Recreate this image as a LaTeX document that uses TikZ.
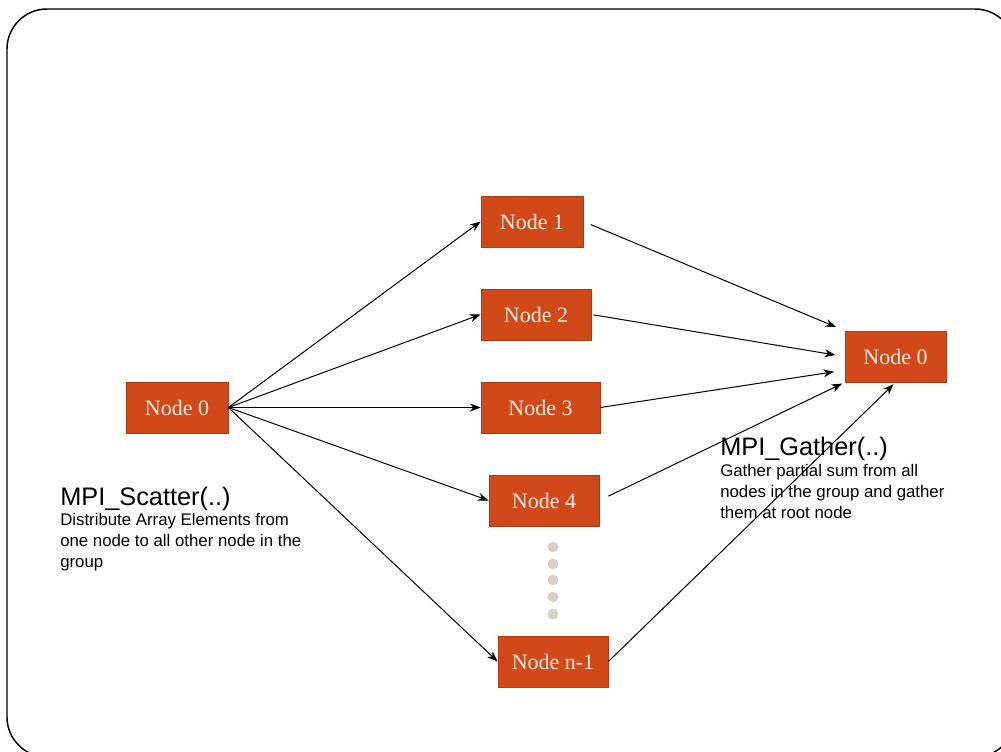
\documentclass[tikz,border=0pt]{standalone}
\usepackage{fontspec}
\setmainfont{Liberation Serif}
\newfontfamily\labelsans{Liberation Sans}
\usepackage{xcolor}
\usetikzlibrary{arrows.meta}

\definecolor{nodefill}{RGB}{209,73,24}
\definecolor{nodeedge}{RGB}{178,58,18}
\definecolor{nodetext}{RGB}{252,236,226}
\definecolor{dotgrey}{RGB}{215,209,194}

\begin{document}
\begin{tikzpicture}[x=0.75pt, y=-0.75pt,
    mpinode/.style={draw=nodeedge, fill=nodefill, text=nodetext, line width=0.6pt,
        minimum height=38.25pt, inner sep=0pt, font=\fontsize{16.5}{19}\selectfont},
    msg/.style={-{Stealth[length=8pt, width=6pt, inset=2.5pt]}, line width=0.75pt},
    heading/.style={anchor=base west, inner sep=0pt, font=\labelsans\fontsize{19}{21}\selectfont},
    caption/.style={anchor=base west, inner sep=0pt, align=left,
        font=\labelsans\fontsize{12.6}{15.4}\selectfont}]
    \useasboundingbox (0,0) rectangle (1001,751);
    % frame
    \draw [line width=1.1pt, rounded corners=30pt] (7,9) rectangle (1015,757);
    % nodes
    \node [mpinode, minimum width=76.5pt] (root) at (177,407.5) {Node 0};
    \node [mpinode, minimum width=76.5pt] (n1) at (532,221.5) {Node 1};
    \node [mpinode, minimum width=82.5pt] (n2) at (536,314.5) {Node 2};
    \node [mpinode, minimum width=89.25pt] (n3) at (540.5,407.5) {Node 3};
    \node [mpinode, minimum width=82.5pt] (n4) at (544,500.5) {Node 4};
    \node [mpinode, minimum width=82.5pt] (nlast) at (553,661.5) {Node n-1};
    \node [mpinode, minimum width=75.75pt] (gather) at (895.5,356.5) {Node 0};
    % dots between node 4 and node n-1
    \foreach \y in {547, 564, 580, 597, 614}
        \fill [dotgrey] (553,\y) circle [radius=4pt];
    % scatter
    \foreach \n in {n1, n2, n3, n4, nlast}
        \draw [msg] (root.east) -- (\n.west);
    % gather
    \draw [msg, shorten <=6pt, shorten >=7pt] (n1.east) -- (gather.north west);
    \draw [msg, shorten <=1.5pt, shorten >=7pt] (n2.east) -- (gather.west);
    \draw [msg, shorten >=8pt] (n3.east) -- (gather.195);
    \draw [msg, shorten <=7.5pt, shorten >=2pt] (n4.east) -- (gather.south west);
    \draw [msg, shorten >=2pt] (nlast.east) -- (gather.south);
    % labels (captions sit on the baseline of their last line)
    \node [heading] (scatterhead) at (60,505) {MPI\_Scatter(..)};
    \node [caption] (scatterbody) at (60,567) {Distribute Array Elements from\\one node to all other node in the\\group};
    \node [heading] (gatherhead) at (720,455) {MPI\_Gather(..)};
    \node [caption] (gatherbody) at (720,518) {Gather partial sum from all\\nodes in the group and gather\\them at root node};
\end{tikzpicture}
\end{document}
